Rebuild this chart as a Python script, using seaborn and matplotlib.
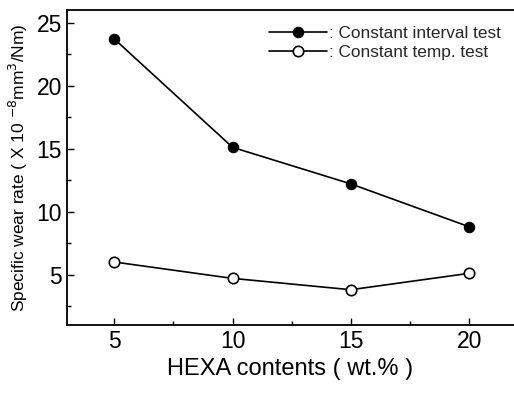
import matplotlib
matplotlib.use("Agg")
import matplotlib.pyplot as plt
import seaborn as sns
import pandas as pd
from matplotlib.ticker import MultipleLocator

hexa = [5, 10, 15, 20]
interval_test = [23.7, 15.1, 12.2, 8.8]
temp_test = [6.0, 4.7, 3.8, 5.1]
labels = [": Constant interval test", ": Constant temp. test"]

sns.set_style("ticks")
plt.rcParams['font.family'] = ['Liberation Sans', 'DejaVu Sans']

fig = plt.figure(figsize=(5.14, 3.95), dpi=100)
ax = fig.add_axes([67/514, 70/395, (514-67)/514, 315/395])

df1 = pd.DataFrame({"x": hexa, "y": interval_test})
df2 = pd.DataFrame({"x": hexa, "y": temp_test})
sns.lineplot(data=df1, x="x", y="y", ax=ax, color="black", lw=1.2,
             marker="o", markersize=7.5, markerfacecolor="black",
             markeredgecolor="black", label=labels[0])
sns.lineplot(data=df2, x="x", y="y", ax=ax, color="black", lw=1.2,
             marker="o", markersize=7.5, markerfacecolor="white",
             markeredgecolor="black", markeredgewidth=1.2, label=labels[1])

ax.set_xlim(3, 21.9)
ax.set_ylim(1, 26)
ax.xaxis.set_minor_locator(MultipleLocator(2.5))
ax.yaxis.set_minor_locator(MultipleLocator(2.5))
ax.set_xticks([5, 10, 15, 20])
ax.set_yticks([5, 10, 15, 20, 25])
ax.tick_params(which="major", direction="in", length=5, width=1, labelsize=16.5, color="black", labelcolor="black")
ax.tick_params(which="minor", direction="in", length=3, width=1, color="black")
ax.tick_params(axis="y", which="both", left=True)
ax.tick_params(axis="x", which="both", bottom=True)
for s in ["left", "bottom", "top"]:
    ax.spines[s].set_color("black")
    ax.spines[s].set_linewidth(1.3)
ax.spines["right"].set_visible(False)

ax.set_xlabel("HEXA contents ( wt.% )", fontsize=17, color="black", labelpad=4)
ax.set_ylabel(r"Specific wear rate ( X 10 $^{-8}$mm$^{3}$/Nm)", fontsize=12.5, color="black", labelpad=5)

leg = ax.legend(loc="upper left", bbox_to_anchor=(0.436, 0.97), frameon=False,
                fontsize=12.4, handlelength=3.4, handletextpad=0.1,
                labelspacing=0.2, borderaxespad=0)

fig.savefig("out.png", dpi=100)
